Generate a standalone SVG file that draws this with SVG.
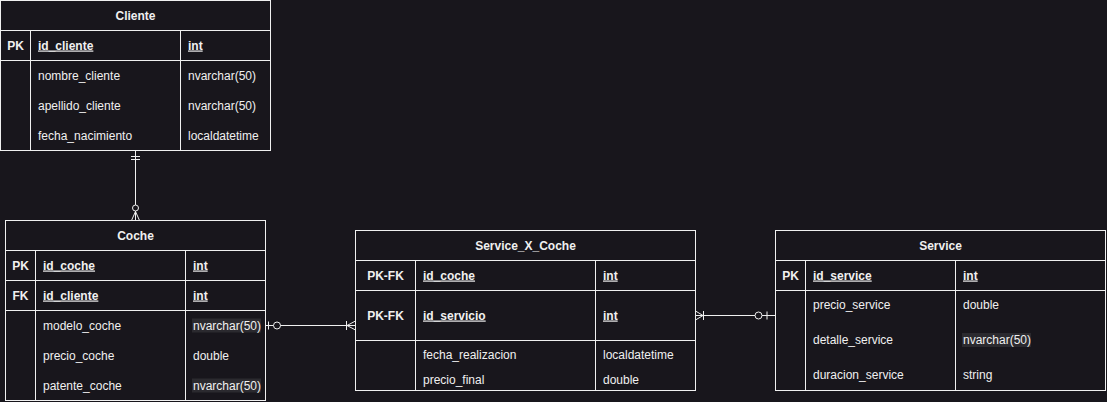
<svg xmlns="http://www.w3.org/2000/svg" width="1107" height="402" viewBox="0 0 1107 402">
<style>
.bg{fill:#18161c}
.tb{fill:#18161c;stroke:#f0f0f0;stroke-width:1}
.ln{stroke:#f0f0f0;stroke-width:1;fill:none}
.cn{stroke:#f0f0f0;stroke-width:1;fill:none}
.mk{stroke:#f0f0f0;stroke-width:1;fill:#18161c}
text{font-family:"Liberation Sans",Arial,Helvetica,sans-serif;font-size:12px;fill:#f0f0f0}
.t{font-weight:bold;text-anchor:middle}
.k{font-weight:bold;text-anchor:middle}
.u{font-weight:bold;text-decoration:underline}
.hl{fill:#2b2a2f}
</style>
<rect class="bg" x="0" y="0" width="1107" height="402"/>

<g id="cliente">
<rect class="tb" x="0.5" y="0.5" width="270" height="150"/>
<path class="ln" d="M0.5 30.5H270.5M0.5 60.5H270.5M30.5 30.5V150.5M180.5 30.5V150.5"/>
<text class="t" x="135.5" y="19.5">Cliente</text>
<text class="k" x="15.5" y="49.5">PK</text>
<text class="u" x="38" y="49.5">id_cliente</text>
<text class="u" x="188" y="49.5">int</text>
<text x="38" y="79.5">nombre_cliente</text>
<text x="188" y="79.5">nvarchar(50)</text>
<text x="38" y="109.5">apellido_cliente</text>
<text x="188" y="109.5">nvarchar(50)</text>
<text x="38" y="139.5">fecha_nacimiento</text>
<text x="188" y="139.5">localdatetime</text>
</g>

<g id="coche">
<rect class="tb" x="5.5" y="220.5" width="260" height="180"/>
<path class="ln" d="M5.5 250.5H265.5M5.5 280.5H265.5M5.5 310.5H265.5M35.5 250.5V400.5M185.5 250.5V400.5"/>
<text class="t" x="135.5" y="239.5">Coche</text>
<text class="k" x="20.5" y="269.5">PK</text>
<text class="u" x="43" y="269.5">id_coche</text>
<text class="u" x="193" y="269.5">int</text>
<text class="k" x="20.5" y="299.5">FK</text>
<text class="u" x="43" y="299.5">id_cliente</text>
<text class="u" x="193" y="299.5">int</text>
<rect class="hl" x="192" y="318.5" width="69" height="14"/>
<text x="43" y="329.5">modelo_coche</text>
<text x="193" y="329.5">nvarchar(50)</text>
<text x="43" y="359.5">precio_coche</text>
<text x="193" y="359.5">double</text>
<rect class="hl" x="192" y="378.5" width="69" height="14"/>
<text x="43" y="389.5">patente_coche</text>
<text x="193" y="389.5">nvarchar(50)</text>
</g>

<g id="service_x_coche">
<rect class="tb" x="355.5" y="230.5" width="340" height="160"/>
<path class="ln" d="M355.5 260.5H695.5M355.5 290.5H695.5M355.5 340.5H695.5M415.5 260.5V390.5M595.5 260.5V390.5"/>
<text class="t" x="525.5" y="249.5">Service_X_Coche</text>
<text class="k" x="385.5" y="279.5">PK-FK</text>
<text class="u" x="423" y="279.5">id_coche</text>
<text class="u" x="603" y="279.5">int</text>
<text class="k" x="385.5" y="319.5">PK-FK</text>
<text class="u" x="423" y="319.5">id_servicio</text>
<text class="u" x="603" y="319.5">int</text>
<text x="423" y="359">fecha_realizacion</text>
<text x="603" y="359">localdatetime</text>
<text x="423" y="384">precio_final</text>
<text x="603" y="384">double</text>
</g>

<g id="service">
<rect class="tb" x="775.5" y="230.5" width="330" height="160"/>
<path class="ln" d="M775.5 260.5H1105.5M775.5 290.5H1105.5M805.5 260.5V390.5M955.5 260.5V390.5"/>
<text class="t" x="940.5" y="249.5">Service</text>
<text class="k" x="790.5" y="279.5">PK</text>
<text class="u" x="813" y="279.5">id_service</text>
<text class="u" x="963" y="279.5">int</text>
<text x="813" y="309">precio_service</text>
<text x="963" y="309">double</text>
<rect class="hl" x="962" y="333" width="69" height="14"/>
<text x="813" y="344">detalle_service</text>
<text x="963" y="344">nvarchar(50)</text>
<text x="813" y="379">duracion_service</text>
<text x="963" y="379">string</text>
</g>

<g id="connectors">
<path class="cn" d="M135.5 150.5V220.5"/>
<path class="cn" d="M131 156.5H140M131 159.5H140"/>
<circle class="mk" cx="135.5" cy="208" r="3"/>
<path class="cn" d="M131.5 220.5L135.5 211.5L139.5 220.5"/>

<path class="cn" d="M265.5 325.5H355.5"/>
<path class="cn" d="M268.5 321.5V329.5"/>
<circle class="mk" cx="277" cy="325.5" r="3.5"/>
<path class="cn" d="M346.5 321V330M355.5 321L347 325.5L355.5 330"/>

<path class="cn" d="M695.5 315.5H775.5"/>
<path class="cn" d="M695.5 311L703 315.5L695.5 320M703.5 311V320"/>
<circle class="mk" cx="758.5" cy="315.5" r="3.5"/>
<path class="cn" d="M767 311.5V319.5"/>
</g>
</svg>
